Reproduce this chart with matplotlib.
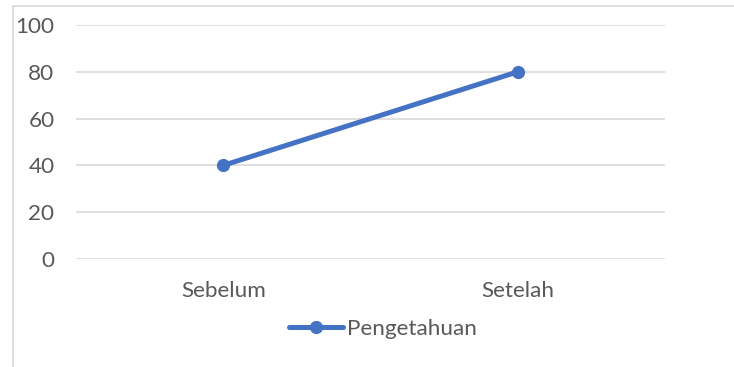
import matplotlib.pyplot as plt
from matplotlib.patches import Rectangle

categories = ["Sebelum", "Setelah"]
pengetahuan = [40, 80]
y_ticks = [0, 20, 40, 60, 80, 100]

LINE_COLOR = "#4472C4"
GRID_COLOR = "#D9D9D9"
TEXT_COLOR = "#595959"
FS = 16.2

W, H = 734, 367
fig = plt.figure(figsize=(W / 100, H / 100), dpi=100)
plt.rcParams["font.family"] = ["Lato", "DejaVu Sans"]

# chart border (only top and left visible in the crop)
fig.patches.append(Rectangle((13 / W, -0.1), 1.2, (H - 5.5) / H + 0.1,
                             transform=fig.transFigure, fill=False,
                             edgecolor=GRID_COLOR, linewidth=1.2))

ax = fig.add_axes([76 / W, (H - 259) / H, (665 - 76) / W, (259 - 25) / H])
ax.plot(range(len(categories)), pengetahuan, color=LINE_COLOR, lw=3.6,
        marker="o", markersize=8.5, label="Pengetahuan", solid_capstyle="round",
        zorder=3, clip_on=False)

ax.set_xlim(-0.5, len(categories) - 0.5)
ax.set_ylim(0, 100)
ax.set_yticks(y_ticks)
ax.set_xticks(range(len(categories)))
ax.set_xticklabels(categories)
ax.grid(axis="y", color=GRID_COLOR, linewidth=1.2)
ax.set_axisbelow(True)
for side in ax.spines.values():
    side.set_visible(False)
ax.tick_params(length=0, labelsize=FS, colors=TEXT_COLOR, pad=0)
ax.tick_params(axis="y", pad=15.5)
ax.tick_params(axis="x", pad=16)

leg = fig.legend(loc="center", bbox_to_anchor=(383 / W, (H - 329) / H),
                 frameon=False, fontsize=FS, handlelength=2.4,
                 handletextpad=0.2, borderpad=0)
for t in leg.get_texts():
    t.set_color(TEXT_COLOR)

fig.savefig("out.png", dpi=100)
